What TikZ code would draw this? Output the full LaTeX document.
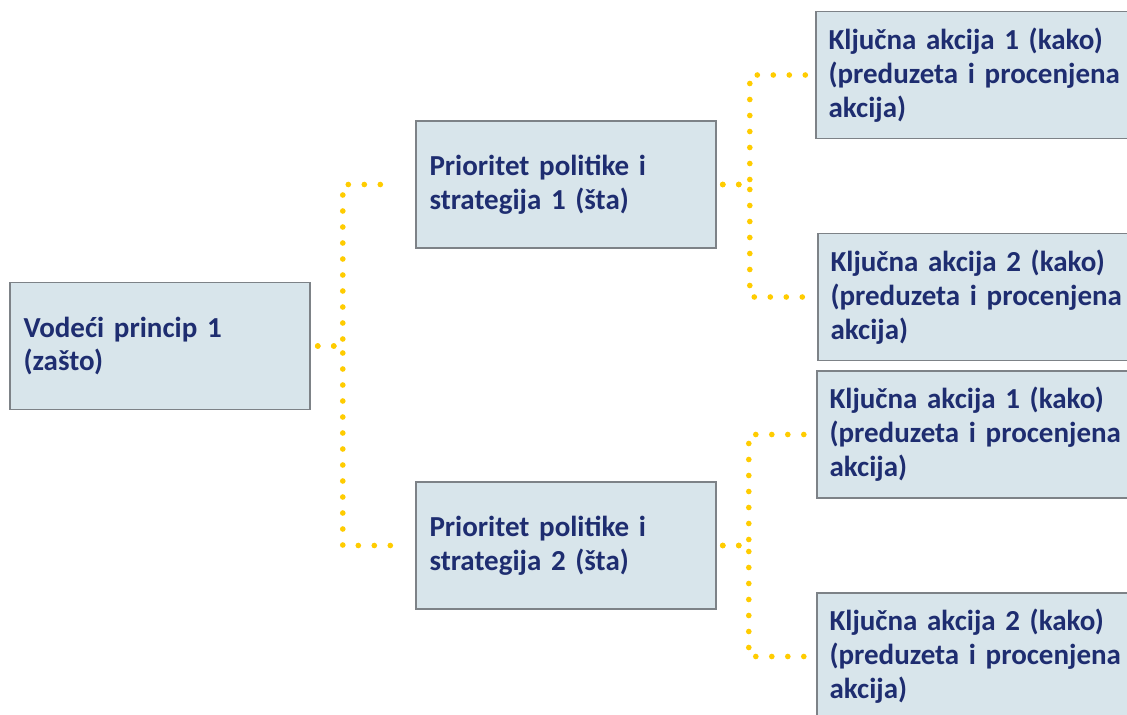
\documentclass[tikz,border=0pt]{standalone}
\usepackage{fontspec}
\setmainfont{Carlito}
\definecolor{boxfill}{RGB}{216, 229, 235}
\definecolor{boxline}{RGB}{125, 130, 135}
\definecolor{navytext}{RGB}{30, 45, 112}
\definecolor{dotgold}{RGB}{255, 204, 0}
\newcommand{\boxfont}{\fontsize{16.5}{19.3}\selectfont\bfseries\spaceskip=0.17em\relax}
\usepackage{tikz}
\usetikzlibrary{positioning, calc}

\begin{document}
\begin{tikzpicture}[
  gbox/.style={draw=boxline, line width=0.9pt, fill=boxfill, minimum width=6cm, minimum height=2.54cm, text width=5.46cm, inner xsep=0.27cm, align=left, text=navytext, font=\boxfont},
  kbox/.style={gbox, minimum width=6.8cm, text width=6.3cm, inner xsep=0.25cm},
  link/.style={draw=dotgold, line width=3.2pt, line cap=round, dash pattern=on 0pt off 0.32cm}
]
  \useasboundingbox (0, 0) rectangle (22.54, -14.28);

  \node[gbox] (root) at (3.2, -6.92) {Vodeći princip 1\\(zašto)};
  \node[gbox] (pol1) at (11.32, -3.69) {Prioritet politike i\\strategija 1 (šta)};
  \node[gbox] (pol2) at (11.32, -10.91) {Prioritet politike i\\strategija 2 (šta)};

  \node[kbox] (ka11) at (19.72, -1.5) {Ključna akcija 1 (kako)\\(preduzeta i procenjena\\akcija)};
  \node[kbox] (ka12) at (19.76, -5.94) {Ključna akcija 2 (kako)\\(preduzeta i procenjena\\akcija)};
  \node[kbox] (ka21) at (19.74, -8.69) {Ključna akcija 1 (kako)\\(preduzeta i procenjena\\akcija)};
  \node[kbox] (ka22) at (19.74, -13.13) {Ključna akcija 2 (kako)\\(preduzeta i procenjena\\akcija)};

  % dotted tree links
  \draw[link] ([xshift=0.14cm]root.east) -- ++(0.5, 0) |- ([xshift=-0.4cm]pol1.west);
  \draw[link] ([xshift=0.14cm]root.east) -- ++(0.5, 0) |- ([xshift=-0.2cm]pol2.west);
  \draw[link] ([xshift=0.12cm]pol1.east) -- ++(0.54, 0) |- ([xshift=-0.1cm]ka11.west);
  \draw[link] ([xshift=0.12cm]pol1.east) -- ++(0.54, 0) |- ([xshift=-0.1cm]ka12.west);
  \draw[link] ([xshift=0.12cm]pol2.east) -- ++(0.52, 0) |- ([xshift=-0.1cm]ka21.west);
  \draw[link] ([xshift=0.12cm]pol2.east) -- ++(0.52, 0) |- ([xshift=-0.1cm]ka22.west);
\end{tikzpicture}
\end{document}
